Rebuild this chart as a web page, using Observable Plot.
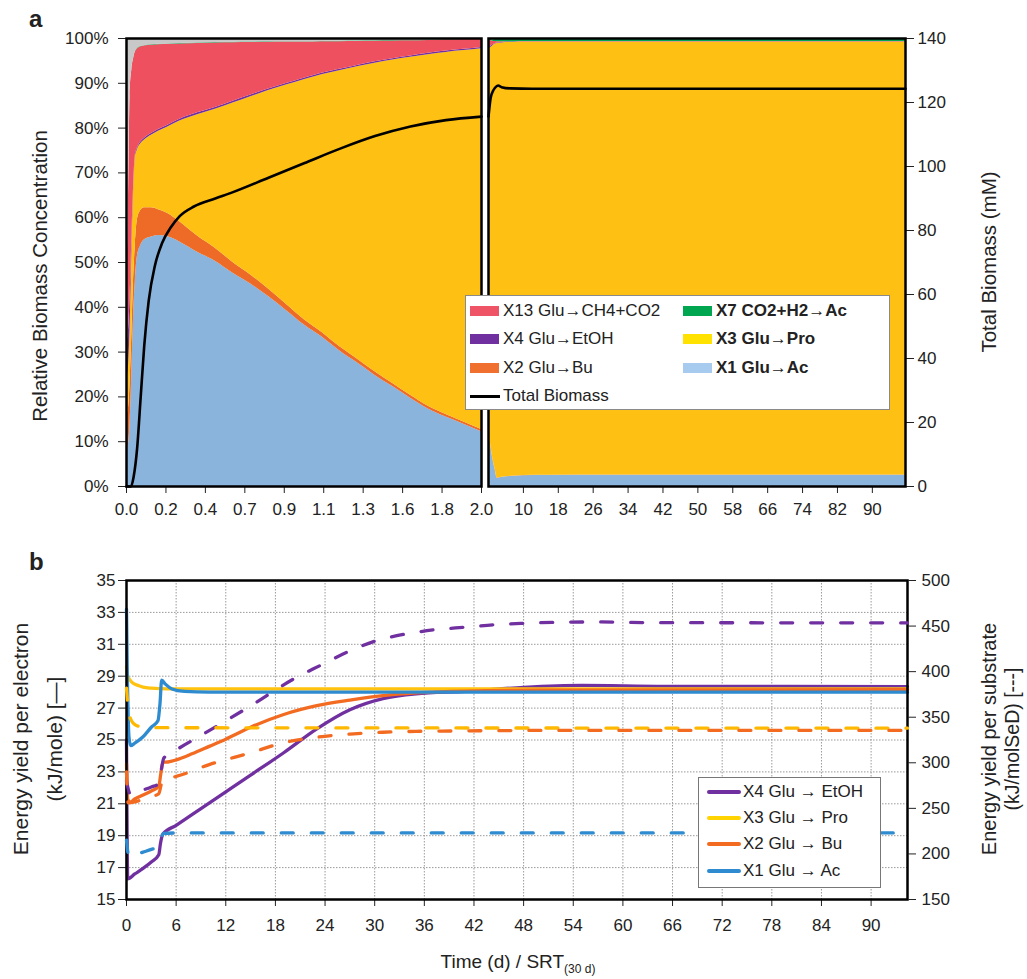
<!DOCTYPE html>
<html>
<head>
<meta charset="utf-8">
<script src="https://cdn.jsdelivr.net/npm/d3@7"></script>
<script src="https://cdn.jsdelivr.net/npm/@observablehq/plot@0.6"></script>
<style>
  html,body{margin:0;padding:0;background:#fff;}
  #wrap{position:relative;width:1027px;height:979px;overflow:hidden;font-family:"Liberation Sans",Arial,sans-serif;color:#222;}
  .pl{position:absolute;}
  .t{position:absolute;white-space:nowrap;line-height:1;}
  .rot{position:absolute;white-space:nowrap;line-height:1;transform:translate(-50%,-50%) rotate(-90deg);}
  .leg{position:absolute;background:#fff;border:1px solid #8a8a8a;box-sizing:border-box;}
  .row{position:absolute;height:20px;line-height:20px;font-size:17px;white-space:nowrap;color:#222;}
  .sw{position:absolute;}
</style>
</head>
<body>
<div id="wrap"></div>
<script>
// ---------------- Panel a data (relative biomass, %) ----------------
const speciesA = ["X1", "X2", "X3", "X4", "X13", "X7", "Other"];
const areaColors = ["#8ab4dc", "#ee6a27", "#fec012", "#7030a0", "#ef5060", "#00a651", "#c8c8c8"];

// first segment: time 0 – 2.0
const tA1 = [0, 0.01, 0.02, 0.03, 0.04, 0.05, 0.06, 0.08, 0.1, 0.14, 0.18, 0.23, 0.3, 0.4, 0.5, 0.6, 0.7, 0.8, 0.9, 1.0, 1.1, 1.2, 1.3, 1.4, 1.5, 1.6, 1.7, 1.8, 1.9, 2.0];
const x1A1 = [8, 9, 14, 25, 38, 46, 51, 53.8, 55, 55.7, 56, 55.8, 54.6, 52.3, 50.3, 47.6, 45.2, 42.4, 39.3, 36.1, 33.4, 30.3, 27.6, 24.8, 22.3, 19.7, 17.3, 15.5, 13.9, 12.2];
const x2A1 = [8, 8, 9, 9, 8.5, 8.2, 8.2, 7.8, 7.2, 6.5, 5.8, 5.2, 4.5, 3.6, 2.9, 2.4, 2.0, 1.7, 1.4, 1.2, 1.05, 0.95, 0.85, 0.8, 0.7, 0.65, 0.6, 0.55, 0.5, 0.5];
const x3A1 = [8, 9, 12, 18, 19.5, 19.3, 15.8, 14.9, 15.1, 16.2, 17.5, 19.2, 22.5, 27.1, 31, 35.6, 39.8, 44.3, 48.9, 53.5, 57.45, 61.55, 65.25, 68.9, 72.2, 75.45, 78.5, 80.85, 82.9, 85.0];
const x4A1 = [8, 8, 7, 3, 1, 0.5, 0.4, 0.4, 0.4, 0.4, 0.4, 0.4, 0.4, 0.4, 0.4, 0.4, 0.4, 0.35, 0.35, 0.35, 0.35, 0.35, 0.3, 0.3, 0.3, 0.3, 0.3, 0.3, 0.3, 0.3];
const x13A1 = [15, 25, 45, 38, 28.5, 23, 22.2, 21.2, 20.6, 19.7, 18.9, 18.1, 16.8, 15.5, 14.4, 13.05, 11.7, 10.4, 9.25, 8.05, 7.0, 6.15, 5.35, 4.6, 3.95, 3.4, 2.85, 2.5, 2.2, 1.9];
const x7A1 = [0.1, 0.1, 0.1, 0.1, 0.1, 0.1, 0.1, 0.1, 0.1, 0.1, 0.1, 0.1, 0.1, 0.1, 0.1, 0.1, 0.1, 0.1, 0.1, 0.1, 0.1, 0.1, 0.1, 0.1, 0.1, 0.1, 0.1, 0.1, 0.1, 0.1];
const othA1 = [52.9, 40.9, 12.9, 6.9, 4.4, 2.9, 2.3, 1.8, 1.6, 1.4, 1.3, 1.2, 1.1, 1.0, 0.9, 0.85, 0.8, 0.75, 0.7, 0.7, 0.65, 0.6, 0.55, 0.5, 0.45, 0.4, 0.35, 0.2, 0.1, 0.0];

// second segment: time 2 – ~98
const tA2 = [2, 2.5, 3, 3.5, 4, 5, 6, 8, 10, 15, 30, 50, 70, 97.6];
const x1A2 = [12.2, 9, 6, 3.8, 1.8, 2.0, 2.15, 2.3, 2.4, 2.45, 2.5, 2.5, 2.5, 2.5];
const x2A2 = [0.5, 0.4, 0.3, 0.2, 0.1, 0.05, 0.05, 0.05, 0.05, 0.05, 0.05, 0.05, 0.05, 0.05];
const x3A2 = [85.0, 88.6, 92.1, 94.7, 97.0, 96.95, 96.9, 96.8, 96.75, 96.7, 96.65, 96.65, 96.65, 96.65];
const x4A2 = [0.3, 0.25, 0.2, 0.15, 0.1, 0.1, 0.1, 0.1, 0.1, 0.1, 0.1, 0.1, 0.1, 0.1];
const x13A2 = [1.9, 1.3, 0.8, 0.5, 0.3, 0.15, 0.1, 0.05, 0.05, 0.05, 0.05, 0.05, 0.05, 0.05];
const x7A2 = [0.1, 0.2, 0.3, 0.4, 0.5, 0.55, 0.6, 0.6, 0.6, 0.6, 0.6, 0.6, 0.6, 0.6];
const othA2 = [0, 0.25, 0.3, 0.25, 0.2, 0.2, 0.1, 0.1, 0.05, 0.05, 0.05, 0.05, 0.05, 0.05];

// total biomass (mM)
const tBioA1 = [0, 0.025, 0.04, 0.06, 0.08, 0.1, 0.125, 0.16, 0.2, 0.25, 0.3, 0.38, 0.5, 0.6, 0.8, 1.0, 1.2, 1.4, 1.6, 1.8, 2.0];
const bioA1 = [0, 0, 3, 12, 28, 44, 58, 69, 76, 81, 84.5, 87.5, 90, 92, 96.5, 101, 105.5, 109.5, 112.5, 114.5, 115.6];
const tBioA2 = [2, 2.5, 3, 3.5, 4.2, 5, 7, 12, 20, 40, 60, 80, 97.6];
const bioA2 = [115.6, 121.5, 123.5, 124.6, 125.3, 124.8, 124.4, 124.3, 124.3, 124.3, 124.3, 124.3, 124.3];

// axis ticks panel a
const xTicksA1 = [0, 0.2222, 0.4444, 0.6667, 0.8889, 1.1111, 1.3333, 1.5556, 1.7778, 2.0];
const xTickLabelsA1 = ["0.0", "0.2", "0.4", "0.7", "0.9", "1.1", "1.3", "1.6", "1.8", "2.0"];
const xTicksA2 = [10, 18, 26, 34, 42, 50, 58, 66, 74, 82, 90];
const yTicksPct = [0, 10, 20, 30, 40, 50, 60, 70, 80, 90, 100];
const yTicksMM = [0, 20, 40, 60, 80, 100, 120, 140];

const legendALabels = ["X13 Glu→CH4+CO2", "X7 CO2+H2→Ac", "X4 Glu→EtOH", "X3 Glu→Pro", "X2 Glu→Bu", "X1 Glu→Ac", "Total Biomass"];
const legendAColors = ["#ef5466", "#00a650", "#7030a0", "#ffe200", "#f07030", "#a7cbef", "#000000"];
const legendABold = [false, true, false, true, false, true, false];

// ---------------- Panel b data ----------------
// solid lines: energy yield per electron (kJ/mole)
const tX4s = [0, 0.15, 1, 2, 3, 3.9, 4.1, 4.4, 6, 9, 12, 15, 19, 23, 27, 31, 35, 41, 48, 55, 65, 94.4];
const vX4s = [25, 16.3, 16.6, 16.95, 17.35, 17.8, 18.5, 19.1, 19.65, 20.7, 21.75, 22.8, 24.2, 25.7, 26.9, 27.6, 27.9, 28.05, 28.3, 28.42, 28.36, 28.35];
const tX3s = [0, 0.1, 0.3, 0.6, 1, 1.5, 2, 3, 5, 94.4];
const vX3s = [29.6, 29.1, 28.85, 28.65, 28.5, 28.4, 28.32, 28.25, 28.2, 28.2];
const tX2s = [0, 0.15, 0.4, 1, 2, 3, 3.9, 4.15, 4.4, 5, 6, 8, 10, 12, 15, 19, 23, 27, 31, 35, 41, 50, 94.4];
const vX2s = [23.5, 21.3, 21.1, 21.3, 21.55, 21.8, 22.1, 22.9, 23.6, 23.62, 23.75, 24.15, 24.6, 25.05, 25.8, 26.6, 27.15, 27.5, 27.78, 27.95, 28.07, 28.12, 28.15];
const tX1s = [0, 0.1, 0.2, 0.3, 0.5, 1, 2, 3, 3.8, 4.05, 4.25, 4.7, 5.5, 7, 10, 94.4];
const vX1s = [33.2, 29, 26.5, 25.2, 24.65, 24.8, 25.2, 25.8, 26.2, 27.3, 28.75, 28.5, 28.2, 28.05, 28.0, 28.0];

// dashed lines: energy yield per substrate (kJ/molSeD)
const tX4d = [0, 0.5, 1, 2, 3, 3.9, 4.2, 4.5, 6, 9, 12, 15.4, 20.2, 23.4, 26.65, 30.3, 33.9, 37.5, 41.1, 44.4, 48, 53, 57, 63, 94.4];
const vX4d = [280, 265, 266.5, 270, 273.5, 277, 292, 305, 314, 330, 346, 364.7, 392, 406.7, 421.3, 434.2, 441.5, 446.2, 448.8, 451.4, 453, 454.3, 454.5, 453.8, 453.5];
const tX3d = [0, 0.2, 0.5, 1, 1.5, 2.5, 94.4];
const vX3d = [382, 360, 348, 342, 340, 338.5, 338];
const tX2d = [0, 0.2, 1, 2, 3, 3.9, 4.2, 4.5, 6, 10, 15, 19, 23, 27, 31, 35, 41, 50, 94.4];
const vX2d = [290, 256, 257, 260, 263, 266, 276, 282, 285, 298, 311, 322, 328, 331.5, 333.5, 334.5, 335, 335.5, 335.5];
const tX1d = [0, 0.3, 1, 2, 3, 3.9, 4.2, 4.5, 6, 94.4];
const vX1d = [215, 197, 199, 202, 205, 208, 218, 222.5, 223, 223];

const xTicksB = [0, 6, 12, 18, 24, 30, 36, 42, 48, 54, 60, 66, 72, 78, 84, 90];
const yTicksBL = [15, 17, 19, 21, 23, 25, 27, 29, 31, 33, 35];
const yTicksBR = [150, 200, 250, 300, 350, 400, 450, 500];

const seriesB = ["X4", "X3", "X2", "X1"];
const lineColorsB = ["#7030a0", "#ffc20e", "#f26b21", "#2e8bd0"];
const legendBLabels = ["X4 Glu → EtOH", "X3 Glu → Pro", "X2 Glu → Bu", "X1 Glu → Ac"];
const legendBColors = ["#7030a0", "#ffd400", "#f26b21", "#2e8bd0"];

// ---------------- build ----------------
const wrap = document.getElementById("wrap");
const FONT = "'Liberation Sans', Arial, sans-serif";
function place(node, left, top, w) {
  const d = document.createElement("div");
  d.className = "pl";
  d.style.left = left + "px"; d.style.top = top + "px"; d.style.width = w + "px";
  d.appendChild(node); wrap.appendChild(d);
}
function stackRows(t, arrs, k) {
  const rows = [];
  speciesA.forEach((s, j) => t.forEach((tt, i) => rows.push({t: tt, s, v: arrs[j][i] * k})));
  return rows;
}
function pairs(t, v, k) { return t.map((tt, i) => ({t: tt, v: v[i] * k})); }

const rowsA1 = stackRows(tA1, [x1A1, x2A1, x3A1, x4A1, x13A1, x7A1, othA1], 1);
const rowsA2 = stackRows(tA2, [x1A2, x2A2, x3A2, x4A2, x13A2, x7A2, othA2], 1.4);
const lbA1 = new Map(xTicksA1.map((d, i) => [d, xTickLabelsA1[i]]));

const styleA = {fontFamily: FONT, fontSize: "17px", background: "transparent", overflow: "visible", color: "#222"};

const plotA1 = Plot.plot({
  width: 500, height: 530,
  marginLeft: 126, marginRight: 19, marginTop: 38, marginBottom: 44,
  style: styleA,
  x: {domain: [0, 2], ticks: xTicksA1, tickFormat: d => lbA1.get(d), tickSize: 7, tickPadding: 9, label: null},
  y: {domain: [0, 100], ticks: yTicksPct, tickFormat: d => d + "%", tickSize: 8, tickPadding: 10, label: null},
  color: {domain: speciesA, range: areaColors},
  marks: [
    Plot.areaY(rowsA1, {x: "t", y: "v", fill: "s", order: speciesA, curve: "monotone-x", clip: true}),
    Plot.line(pairs(tBioA1, bioA1, 100 / 140), {x: "t", y: "v", stroke: "#000", strokeWidth: 2.6, curve: "monotone-x"}),
    Plot.frame({stroke: "#000", strokeWidth: 2.5})
  ]
});
place(plotA1, 0, 0, 500);

const plotA2 = Plot.plot({
  width: 541, height: 530,
  marginLeft: 2, marginRight: 122, marginTop: 38, marginBottom: 44,
  style: styleA,
  x: {domain: [2, 97.6], ticks: xTicksA2, tickFormat: d => String(d), tickSize: 7, tickPadding: 9, label: null},
  y: {domain: [0, 140], ticks: yTicksMM, axis: "right", tickSize: 8, tickPadding: 4, label: null},
  color: {domain: speciesA, range: areaColors},
  marks: [
    Plot.areaY(rowsA2, {x: "t", y: "v", fill: "s", order: speciesA, curve: "monotone-x", clip: true}),
    Plot.line(pairs(tBioA2, bioA2, 1), {x: "t", y: "v", stroke: "#000", strokeWidth: 2.6, curve: "monotone-x"}),
    Plot.frame({stroke: "#000", strokeWidth: 2.5})
  ]
});
place(plotA2, 486, 0, 541);

// panel b
const solid = [[tX4s, vX4s], [tX3s, vX3s], [tX2s, vX2s], [tX1s, vX1s]];
const dashed = [[tX4d, vX4d], [tX3d, vX3d], [tX2d, vX2d], [tX1d, vX1d]];
const dashColors = ["#7030a0", "#ffb800", "#f26b21", "#2e8bd0"];
const styleB = {fontFamily: FONT, fontSize: "17px", background: "transparent", overflow: "visible", color: "#222"};

const plotB1 = Plot.plot({
  width: 1027, height: 420,
  marginLeft: 126, marginRight: 120, marginTop: 40, marginBottom: 61,
  style: styleB,
  x: {domain: [0, 94.4], ticks: xTicksB, tickSize: 7, tickPadding: 12, label: null},
  y: {domain: [15, 35], ticks: yTicksBL, tickSize: 8, tickPadding: 3, label: null},
  marks: [
    Plot.ruleX(xTicksB.slice(1), {stroke: "#9a9a9a", strokeWidth: 1, strokeDasharray: "1.5,1.5"}),
    Plot.ruleY(yTicksBL.slice(1, -1), {stroke: "#9a9a9a", strokeWidth: 1, strokeDasharray: "1.5,1.5"}),
    ...solid.map(([t, v], i) => Plot.line(pairs(t, v, 1), {x: "t", y: "v", stroke: lineColorsB[i], strokeWidth: 3.3, curve: "monotone-x"})),
    Plot.frame({stroke: "#000", strokeWidth: 2.5})
  ]
});
place(plotB1, 0, 540, 1027);

const plotB2 = Plot.plot({
  width: 1027, height: 420,
  marginLeft: 126, marginRight: 120, marginTop: 40, marginBottom: 61,
  style: styleB,
  x: {domain: [0, 94.4], axis: null},
  y: {domain: [150, 500], ticks: yTicksBR, axis: "right", tickSize: 8, tickPadding: 6, label: null},
  marks: [
    ...dashed.map(([t, v], i) => Plot.line(pairs(t, v, 1), {x: "t", y: "v", stroke: dashColors[i], strokeWidth: 3.3, strokeDasharray: "12,18", strokeLinecap: "round", curve: "monotone-x"}))
  ]
});
place(plotB2, 0, 540, 1027);

// ---------- legends ----------
function el(tag, cls, css, html) {
  const e = document.createElement(tag);
  if (cls) e.className = cls;
  Object.assign(e.style, css || {});
  if (html != null) e.textContent = html;
  return e;
}
// legend a
const legA = el("div", "leg", {left: "465px", top: "295px", width: "425px", height: "115px"});
legendALabels.forEach((lab, i) => {
  const col = i === 6 ? 0 : i % 2, row = i === 6 ? 3 : Math.floor(i / 2);
  const cy = [15, 43.3, 71.7, 100][row];
  const sx = col === 0 ? 4 : 217;
  if (i === 6) {
    legA.appendChild(el("div", "sw", {left: sx + "px", top: (cy - 1.5) + "px", width: "30px", height: "3px", background: legendAColors[i]}));
  } else {
    legA.appendChild(el("div", "sw", {left: sx + "px", top: (cy - 5) + "px", width: "29px", height: "10px", background: legendAColors[i]}));
  }
  legA.appendChild(el("div", "row", {left: (sx + 33) + "px", top: (cy - 10) + "px", fontWeight: legendABold[i] ? "bold" : "normal"}, lab));
});
wrap.appendChild(legA);

// legend b
const legB = el("div", "leg", {left: "698px", top: "777px", width: "183px", height: "111px", borderColor: "#777"});
legendBLabels.forEach((lab, i) => {
  const cy = [13.7, 39.7, 66.3, 93][i];
  legB.appendChild(el("div", "sw", {left: "8px", top: (cy - 2) + "px", width: "34px", height: "4px", background: legendBColors[i], borderRadius: "2px"}));
  legB.appendChild(el("div", "row", {left: "44px", top: (cy - 10) + "px"}, lab));
});
wrap.appendChild(legB);

// ---------- text ----------
wrap.appendChild(el("div", "t", {left: "29px", top: "7px", fontSize: "24px", fontWeight: "bold"}, "a"));
wrap.appendChild(el("div", "t", {left: "29px", top: "550px", fontSize: "24px", fontWeight: "bold"}, "b"));
wrap.appendChild(el("div", "rot", {left: "40px", top: "276px", fontSize: "20.5px"}, "Relative Biomass  Concentration"));
wrap.appendChild(el("div", "rot", {left: "989px", top: "262px", fontSize: "20.5px"}, "Total Biomass (mM)"));
wrap.appendChild(el("div", "rot", {left: "20px", top: "739px", fontSize: "21px"}, "Energy yield per electron"));
wrap.appendChild(el("div", "rot", {left: "54px", top: "739px", fontSize: "21px"}, "(kJ/mole) [—]"));
wrap.appendChild(el("div", "rot", {left: "989px", top: "739px", fontSize: "20px"}, "Energy yield per substrate"));
wrap.appendChild(el("div", "rot", {left: "1013px", top: "739px", fontSize: "19.5px"}, "(kJ/molSeD) [---]"));
const xt = el("div", "t", {left: "518px", top: "952px", fontSize: "19px", transform: "translateX(-50%)"});
xt.innerHTML = 'Time (d) / SRT<sub style="font-size:12px;vertical-align:-5px">(30 d)</sub>';
wrap.appendChild(xt);
</script>
</body>
</html>
